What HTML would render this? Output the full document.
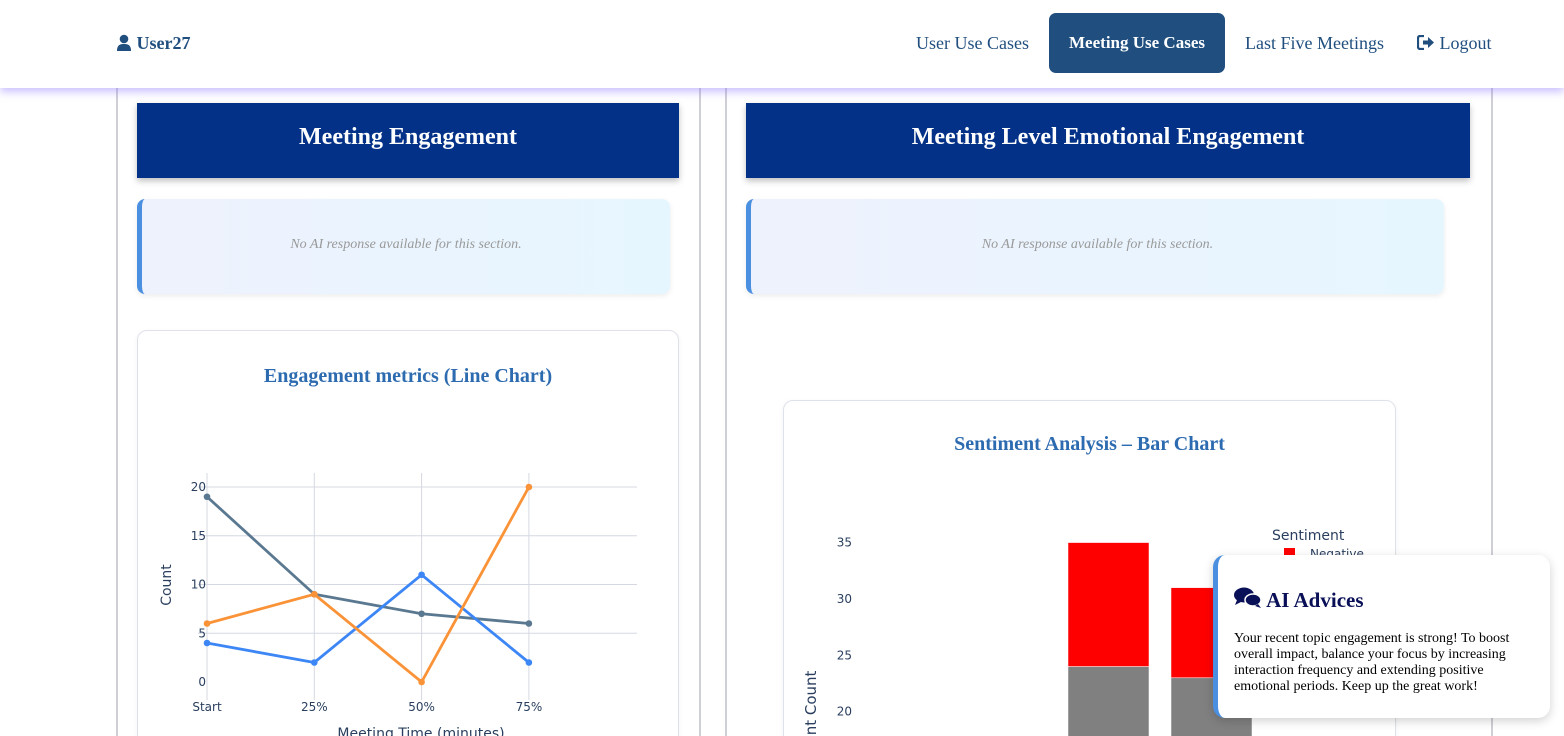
<!DOCTYPE html>
<html style="overflow:hidden;height:736px"><head><meta charset="utf-8"><style>
html,body{margin:0;width:1564px;height:736px;overflow:hidden}
body{background:#fff;font-family:"Liberation Serif",serif;position:relative}
.nav{position:absolute;left:0;top:0;width:1564px;height:88px;background:#fff;box-shadow:0 4px 8px rgba(140,120,255,.45);z-index:5}
.nav a{position:absolute;top:13px;height:60px;line-height:60px;color:#1f4e7f;font-size:18px;text-decoration:none}
.panel{position:absolute;top:80px;height:656px;border-left:2px solid #cfcfd6;border-right:2px solid #cfcfd6;background:#fff}
.hdr{position:absolute;height:75px;background:#023187;color:#fff;font-weight:bold;font-size:24px;text-align:center;line-height:68px;box-shadow:0 3px 6px rgba(0,0,0,.25)}
.ai{position:absolute;height:95px;border-left:5px solid #4a8fe0;border-radius:8px;background:linear-gradient(90deg,#eef2fd,#e6f6ff);box-shadow:0 2px 6px rgba(0,0,0,.08);color:#999;font-style:italic;font-size:14px;text-align:center;line-height:92px}
.card{position:absolute;background:#fff;border:1px solid #dfe2ea;border-radius:10px;box-shadow:0 2px 6px rgba(0,0,0,.05)}
.ct{position:absolute;width:100%;text-align:center;color:#2d6bb0;font-weight:bold;font-size:20px}
svg text{font-family:"DejaVu Sans","Liberation Sans",sans-serif}
</style></head><body>
<div class="nav">
<a style="left:116px;font-weight:bold"><svg width="16" height="17" viewBox="0 0 16 17" style="vertical-align:-2px"><circle cx="8" cy="5" r="4.3" fill="#1f4e7f"/><path d="M1 17c0-6 3-7 7-7s7 1 7 7z" fill="#1f4e7f"/></svg> User27</a>
<a style="left:916px">User Use Cases</a>
<a style="left:1049px;width:176px;background:#1f4e7f;color:#fff;border-radius:7px;text-align:center;font-weight:bold;font-size:17px">Meeting Use Cases</a>
<a style="left:1245px">Last Five Meetings</a>
<a style="left:1417px"><svg width="18" height="15" viewBox="0 0 18 15" style="vertical-align:-1px"><path d="M7 1H3a2 2 0 0 0-2 2v9a2 2 0 0 0 2 2h4" stroke="#1f4e7f" stroke-width="2.2" fill="none"/><path d="M6 5.5h5V2l6 5.5-6 5.5V9.5H6z" fill="#1f4e7f"/></svg> Logout</a>
</div>
<div class="panel" style="left:116px;width:581px"></div>
<div class="panel" style="left:725px;width:764px"></div>
<div class="hdr" style="left:137px;top:103px;width:542px">Meeting Engagement</div>
<div class="hdr" style="left:746px;top:103px;width:724px">Meeting Level Emotional Engagement</div>
<div class="ai" style="left:137px;top:199px;width:528px">No AI response available for this section.</div>
<div class="ai" style="left:746px;top:199px;width:693px">No AI response available for this section.</div>
<div class="card" style="left:137px;top:330px;width:540px;height:420px">
<div class="ct" style="top:34px">Engagement metrics (Line Chart)</div></div>
<div class="card" style="left:783px;top:400px;width:611px;height:360px">
<div class="ct" style="top:32px">Sentiment Analysis – Bar Chart</div></div>
<svg id="lc" style="position:absolute;left:0;top:0" width="700" height="736"></svg>
<svg id="bc" style="position:absolute;left:0;top:0" width="1564" height="736"></svg>
<div style="position:absolute;left:1213px;top:555px;width:332px;height:163px;background:#fff;border-left:5px solid #4a8fe0;border-radius:12px;box-shadow:0 3px 10px rgba(0,0,0,.18);z-index:6">
<div style="position:absolute;left:16px;top:32px;color:#0a1057;font-weight:bold;font-size:21px"><svg width="28" height="22" viewBox="0 0 28 22" style="vertical-align:-2px"><ellipse cx="10" cy="8" rx="10" ry="7.5" fill="#0a1057"/><path d="M3 13l-2 5 6-3z" fill="#0a1057"/><ellipse cx="19" cy="13" rx="8" ry="6" fill="#0a1057" stroke="#fff" stroke-width="1.5"/><path d="M24 17l3 4-6-2z" fill="#0a1057"/></svg> AI Advices</div>
<div style="position:absolute;left:16px;top:76px;width:300px;font-size:14px;line-height:16px;color:#000">Your recent topic engagement is strong! To boost overall impact, balance your focus by increasing interaction frequency and extending positive emotional periods. Keep up the great work!</div></div>
<script>
const NS="http://www.w3.org/2000/svg";
function mk(p,t,a,txt){const e=document.createElementNS(NS,t);for(const k in a)e.setAttribute(k,a[k]);if(txt!=null)e.textContent=txt;p.appendChild(e);return e;}
// line chart data
const lcCategories=["Start","25%","50%","75%"];
const lcTicks=[0,5,10,15,20];
const seriesGray=[19,9,7,6];
const seriesOrange=[6,9,0,20];
const seriesBlue=[4,2,11,2];
const lc=document.getElementById('lc');
const lx=i=>207+i*107.3, ly=v=>682-v*9.75;
lcCategories.forEach((c,i)=>{let l=mk(lc,'line',{x1:lx(i),x2:lx(i),y1:473,y2:700,stroke:'#d5d8e2'});

let t=mk(lc,'text',{x:lx(i),y:711,'text-anchor':'middle','font-size':12,fill:'#2a3f5f'},c);
});
lcTicks.forEach(v=>{if(v>0){let l=mk(lc,'line',{x1:198,x2:637,y1:ly(v),y2:ly(v),stroke:'#d5d8e2'});
}
let t=mk(lc,'text',{x:206,y:ly(v)+4,'text-anchor':'end','font-size':12,fill:'#2a3f5f'},v);
});
let yt=mk(lc,'text',{x:0,y:0,transform:'translate(171,585) rotate(-90)','text-anchor':'middle','font-size':14,fill:'#2a3f5f'},'Count');

let xt=mk(lc,'text',{x:421,y:738,'text-anchor':'middle','font-size':14,fill:'#2a3f5f'},'Meeting Time (minutes)');

[[seriesGray,'#5a7890','gray'],[seriesBlue,'#3d86f5','blue'],[seriesOrange,'#fa9338','orange']].forEach(([s,c,n])=>{
let p=mk(lc,'polyline',{points:s.map((v,i)=>lx(i)+','+ly(v)).join(' '),fill:'none',stroke:c,'stroke-width':2.8});

s.forEach((v,i)=>{let m=mk(lc,'circle',{cx:lx(i),cy:ly(v),r:3.3,fill:c});
});});
// bar chart data
const bcTicks=[20,25,30,35];
const neutralVals=[24,23];
const negativeVals=[11,8];
const bc=document.getElementById('bc');
const by=v=>937-v*11.27, bx=i=>1068+i*103;
bcTicks.forEach(v=>{let t=mk(bc,'text',{x:852,y:by(v)+4,'text-anchor':'end','font-size':12,fill:'#2a3f5f'},v);
});
let bt=mk(bc,'text',{x:0,y:0,transform:'translate(816,734) rotate(-90)','text-anchor':'middle','font-size':15,fill:'#2a3f5f'},'Sentiment Count');

neutralVals.forEach((v,i)=>{let r=mk(bc,'rect',{x:bx(i),y:by(v),width:81,height:v*11.27,fill:'#808080',stroke:'#fff','stroke-width':0.5});

let n=negativeVals[i];let r2=mk(bc,'rect',{x:bx(i),y:by(v+n),width:81,height:n*11.27,fill:'#ff0000',stroke:'#fff','stroke-width':0.5});
});
let lg=mk(bc,'text',{x:1272,y:540,'font-size':14,fill:'#2a3f5f'},'Sentiment');

let ls=mk(bc,'rect',{x:1284,y:548,width:11,height:9,fill:'#ff0000'});

let lt=mk(bc,'text',{x:1310,y:558,'font-size':12,fill:'#2a3f5f'},'Negative');

</script></body></html>
